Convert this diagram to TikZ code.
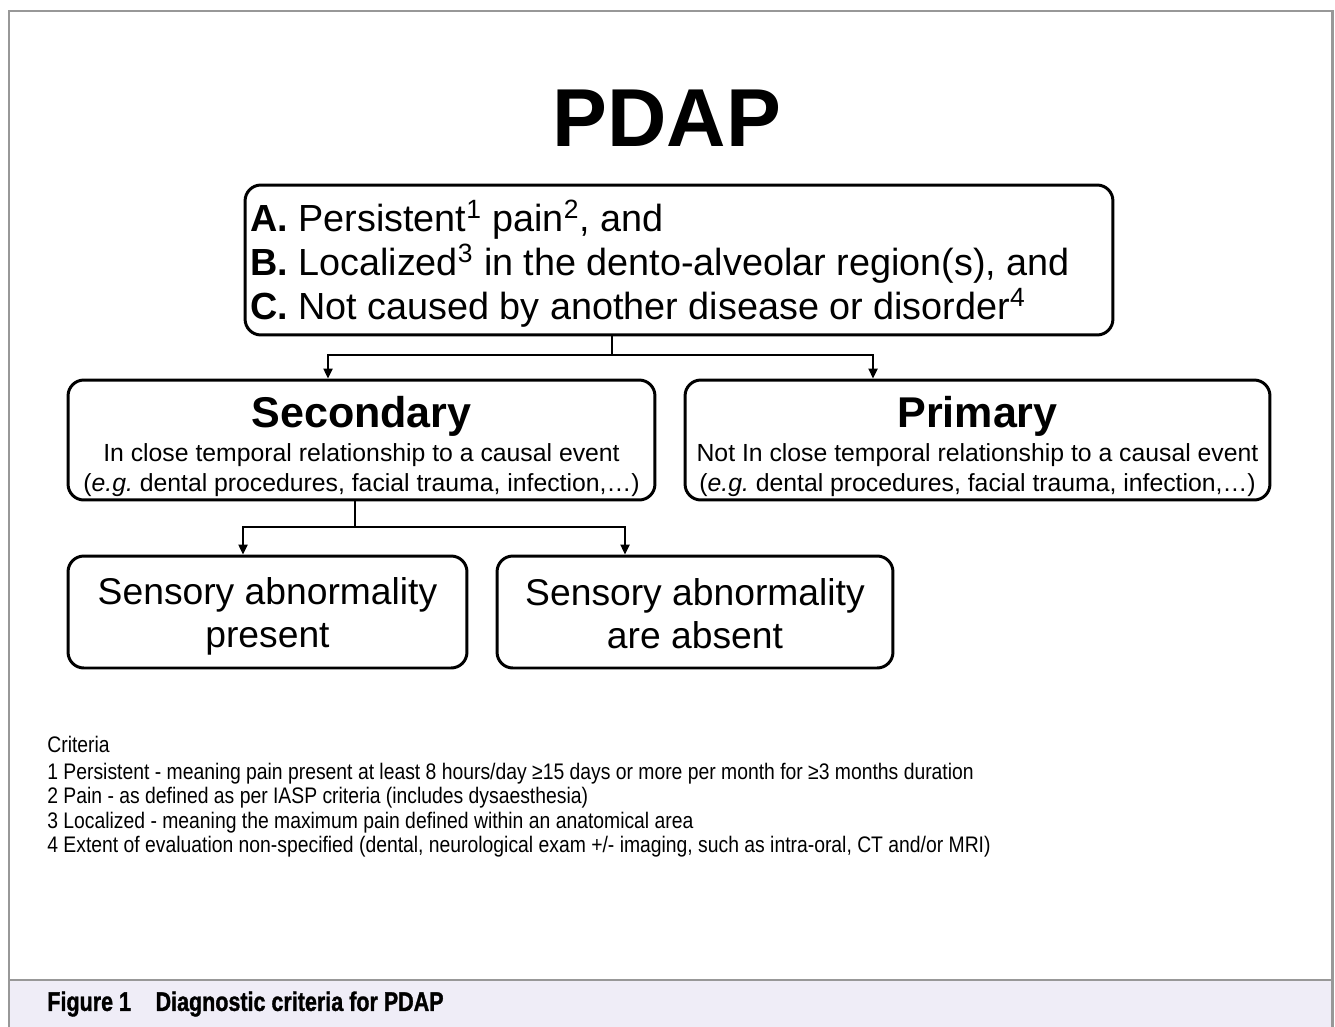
\documentclass[tikz,border=0pt]{standalone}
\usepackage{fontspec}
\setmainfont{Liberation Sans}
\newfontfamily\condfont[FakeStretch=0.86]{Liberation Sans}
\newfontfamily\capfont[FakeStretch=0.8,FakeBold=1.2]{Liberation Sans}
\usepackage{xcolor}
\usetikzlibrary{arrows.meta, positioning, calc}
\definecolor{framegray}{RGB}{152,152,152}
\definecolor{capfill}{RGB}{239,237,247}

\begin{document}
\begin{tikzpicture}[x=0.02cm,y=-0.02cm]
\tikzset{
  bx/.style={rectangle,rounded corners=9pt,draw=black,line width=1.7pt,align=center,inner sep=0pt},
  sub/.style={font=\fontsize{14.1}{17}\selectfont},
  ar/.style={-{Triangle[length=2.0mm,width=1.8mm]},line width=1.3pt,draw=black},
  ln/.style={line width=1.3pt,draw=black},
  tx/.style={inner sep=0pt,align=left,anchor=north west}
}
\useasboundingbox (0,0) rectangle (1335,1027);
% frame and caption bar
\fill[capfill] (9,980) rectangle (1332,1027);
\draw[framegray,line width=1.7pt] (9,1027) -- (9,11) -- (1332,11) -- (1332,1027);
\draw[framegray,line width=1.1pt] (9,980) -- (1332,980);
% boxes
\node (title) at (667,118) {\fontsize{46.8}{50}\selectfont\bfseries PDAP};
\node[bx,minimum width=17.36cm,minimum height=3cm,text width=17.16cm,align=flush left,font=\fontsize{21.5}{25}\selectfont] (abc) at (679,260)
  {\rule{0pt}{22pt}\textbf{A.} Persistent\textsuperscript{1} pain\textsuperscript{2}, and\\
   \textbf{B.} Localized\textsuperscript{3} in the dento-alveolar region(s), and\\
   \textbf{C.} Not caused by another disease or disorder\textsuperscript{4}};
\node[bx,sub,minimum width=11.74cm,minimum height=2.4cm] (sec) at (361.5,440)
  {\rule{0pt}{25pt}{\fontsize{24.5}{28}\selectfont\bfseries Secondary}\\[2pt]
   In close temporal relationship to a causal event\\
   (\textit{e.g.}\ dental procedures, facial trauma, infection,\ldots)};
\node[bx,sub,minimum width=11.7cm,minimum height=2.4cm] (pri) at (977.5,440)
  {\rule{0pt}{25pt}{\fontsize{24.5}{28}\selectfont\bfseries Primary}\\[2pt]
   Not In close temporal relationship to a causal event\\
   (\textit{e.g.}\ dental procedures, facial trauma, infection,\ldots)};
\node[bx,minimum width=7.98cm,minimum height=2.24cm,font=\fontsize{21.2}{24.5}\selectfont] (sp) at (267.5,612) {\rule{0pt}{20pt}Sensory abnormality\\present};
\node[bx,minimum width=7.92cm,minimum height=2.24cm,font=\fontsize{21.2}{24.5}\selectfont] (sa) at (695,612) {\rule{0pt}{17pt}Sensory abnormality\\are absent};
% connectors
\coordinate (j1) at (612,355);
\coordinate (jl) at (328,355);
\coordinate (jr) at (873,355);
\draw[ln] (abc.south -| j1) -- (j1);
\draw[ar] (j1) -| (sec.north -| jl);
\draw[ar] (j1) -| (pri.north -| jr);
\coordinate (j2) at (355,527);
\coordinate (kl) at (243,527);
\coordinate (kr) at (625,527);
\draw[ln] (sec.south -| j2) -- (j2);
\draw[ar] (j2) -| (sp.north -| kl);
\draw[ar] (j2) -| (sa.north -| kr);
% notes and caption
\node[tx,font=\condfont\fontsize{12.8}{14}\selectfont] (crit) at (47,736)
  {Criteria\\[1pt]
   1 Persistent - meaning pain present at least 8 hours/day ≥15 days or more per month for ≥3 months duration\\
   2 Pain - as defined as per IASP criteria (includes dysaesthesia)\\
   3 Localized - meaning the maximum pain defined within an anatomical area\\
   4 Extent of evaluation non-specified (dental, neurological exam +/- imaging, such as intra-oral, CT and/or MRI)};
\node[tx,anchor=west,font=\capfont\fontsize{15.3}{18}\selectfont\bfseries] (cap) at (47,1004) {Figure 1\hspace{14pt}Diagnostic criteria for PDAP};
\end{tikzpicture}
\end{document}
